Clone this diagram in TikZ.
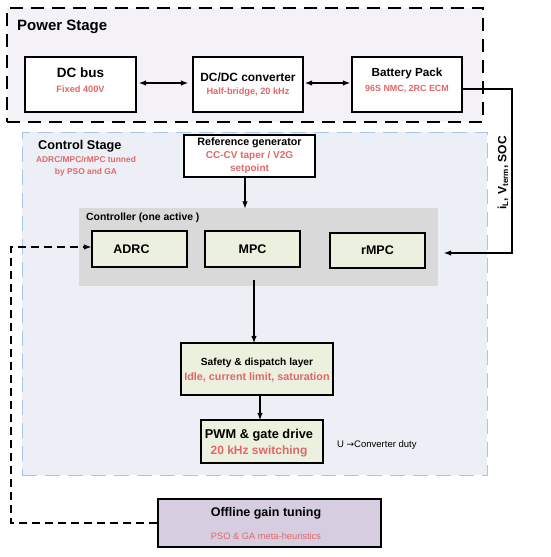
\documentclass[tikz,border=0pt]{standalone}
\usepackage{fontspec}
\setmainfont{Liberation Sans}
\newfontfamily\arrowfont{DejaVu Sans}
\usetikzlibrary{arrows.meta,calc}
\definecolor{redtxt}{RGB}{224,104,104}
\definecolor{psfill}{RGB}{244,242,246}
\definecolor{csfill}{RGB}{236,240,246}
\definecolor{csline}{RGB}{170,198,230}
\definecolor{ctrlfill}{RGB}{217,217,217}
\definecolor{grnfill}{RGB}{236,240,222}
\definecolor{offfill}{RGB}{214,205,225}
\tikzset{
  box/.style={draw=black, line width=1.2pt, inner sep=0pt, anchor=center},
  wbox/.style={box, fill=white},
  gbox/.style={box, fill=grnfill},
  ttl/.style={inner sep=0pt, font=\bfseries},
  sub/.style={inner sep=0pt, font=\bfseries, text=redtxt},
  arr/.style={-{Latex[length=7.5pt,width=5.5pt]}, line width=1.3pt},
  darr/.style={{Latex[length=7.5pt,width=5.5pt]}-{Latex[length=7.5pt,width=5.5pt]}, line width=1.3pt},
}
\newcommand{\fs}[1]{\fontsize{#1}{#1}\selectfont}
\begin{document}
\begin{tikzpicture}[x=1pt,y=-1pt]
\useasboundingbox (0,0) rectangle (550,557);
% stages
\node[draw=black, fill=psfill, line width=1.6pt, dash pattern=on 13pt off 8pt, minimum width=476pt, minimum height=114pt, inner sep=0pt] (ps) at (245,65) {};
\node[draw=csline, fill=csfill, line width=1pt, dash pattern=on 15pt off 8pt, minimum width=465pt, minimum height=343pt, inner sep=0pt] (cs) at (254.5,303.5) {};
\node[ttl, anchor=west, font=\fs{15}\bfseries] (pstitle) at (17,27) {Power Stage};
\node[ttl, anchor=west, font=\fs{12.7}\bfseries] (cstitle) at (38,146) {Control Stage};
\node[sub, align=center, font=\fs{8.4}\bfseries] (cssub) at (86,166) {ADRC/MPC/rMPC tunned\\[3.6pt]by PSO and GA};
% power stage boxes
\node[wbox, minimum width=111pt, minimum height=55pt] (dcbus) at (80.5,84.5) {};
\node[wbox, minimum width=110pt, minimum height=55pt] (dcdc) at (248,84.5) {};
\node[wbox, minimum width=110pt, minimum height=55pt] (batt) at (407,84.5) {};
\node[ttl, font=\fs{13.5}\bfseries] (dcbust) at (dcbus.center|-0,73) {DC bus};
\node[sub, font=\fs{9.2}\bfseries] (dcbuss) at (dcbus.center|-0,89.5) {Fixed 400V};
\node[ttl, font=\fs{11.9}\bfseries] (dcdct) at (dcdc.center|-0,77) {DC/DC converter};
\node[sub, font=\fs{9.2}\bfseries] (dcdcs) at (dcdc.center|-0,92) {Half-bridge, 20 kHz};
\node[ttl, font=\fs{11.7}\bfseries] (battt) at (batt.center|-0,73) {Battery Pack};
\node[sub, font=\fs{8.9}\bfseries] (batts) at (batt.center|-0,89.5) {96S NMC, 2RC ECM};
\draw[darr] ([xshift=2pt,yshift=1.5pt]dcbus.east) -- ([xshift=-4pt,yshift=1.5pt]dcdc.west);
\draw[darr] ([xshift=1pt,yshift=1.5pt]dcdc.east) -- ([xshift=-1pt,yshift=1.5pt]batt.west);
% reference generator
\node[wbox, minimum width=131pt, minimum height=42pt] (refgen) at (249.5,156) {};
\node[ttl, font=\fs{10.7}\bfseries] (refgent) at (refgen.center|-0,143) {Reference generator};
\node[sub, align=center, font=\fs{10}\bfseries] (refgens) at (refgen.center|-0,162.5) {CC-CV taper / V2G\\[2.5pt]setpoint};
% controller
\node[fill=ctrlfill, minimum width=359pt, minimum height=78pt, inner sep=0pt] (ctrl) at (258.5,247) {};
\node[ttl, anchor=west, font=\fs{10.4}\bfseries] (ctrlt) at (86,218) {Controller (one active )};
\node[gbox, minimum width=95pt, minimum height=36pt, font=\fs{12.5}\bfseries] (adrc) at (139.5,249) {\hspace*{-16pt}ADRC};
\node[gbox, minimum width=95pt, minimum height=36pt, font=\fs{12.5}\bfseries] (mpc) at (252.5,249) {MPC};
\node[gbox, minimum width=95pt, minimum height=35pt, font=\fs{12.5}\bfseries] (rmpc) at (377.5,250.5) {rMPC};
\draw[arr] ([xshift=-4.5pt]refgen.south) -- ([xshift=-13.5pt,yshift=-1pt]ctrl.north);
% safety and pwm
\node[gbox, minimum width=152pt, minimum height=52pt] (safety) at (257,369) {};
\node[ttl, font=\fs{10.2}\bfseries] (safetyt) at (safety.center|-0,363) {Safety \& dispatch layer};
\node[sub, font=\fs{10.8}\bfseries] (safetys) at (safety.center|-0,377) {Idle, current limit, saturation};
\node[gbox, minimum width=122pt, minimum height=43pt] (pwm) at (262,441.5) {};
\node[ttl, font=\fs{12.8}\bfseries] (pwmt) at (259,435) {PWM \& gate drive};
\node[sub, font=\fs{12}\bfseries] (pwms) at (259,451) {20 kHz switching};
\node[anchor=west, inner sep=0pt, font=\fs{9.5}] (duty) at (337,445) {U {\arrowfont\fs{9}→}Converter duty};
\draw[arr] ([xshift=-4.5pt,yshift=6pt]ctrl.south) -- ([xshift=-3pt,yshift=-1pt]safety.north);
\draw[arr] ([xshift=3pt,yshift=2pt]safety.south) -- ([xshift=-2pt,yshift=-1pt]pwm.north);
% offline
\node[box, fill=offfill, minimum width=223pt, minimum height=48pt] (offline) at (269.5,523) {};
\node[ttl, font=\fs{12.5}\bfseries] (offlinet) at (266,513) {Offline gain tuning};
\node[inner sep=0pt, text=redtxt, font=\fs{9.3}] (offlines) at (266,536) {PSO \& GA meta-heuristics};
\coordinate (dl1) at (11,523);
\coordinate (dl2) at (11,247);
\draw[arr, line width=1.1pt, dash pattern=on 8pt off 5pt] (offline.west) -- (dl1) -- (dl2) -- (adrc.west|-dl2);
% feedback
\coordinate (fb1) at (512,89);
\coordinate (fb2) at (512,253);
\draw[arr] (batt.east|-fb1) -- (fb1) -- (fb2) -- ([xshift=18pt]rmpc.east|-fb2);
\node[ttl, rotate=90, font=\fs{12}\bfseries] (fblab) at (503,173) {i\textsubscript{L}, V\textsubscript{term}, SOC};
\end{tikzpicture}
\end{document}
